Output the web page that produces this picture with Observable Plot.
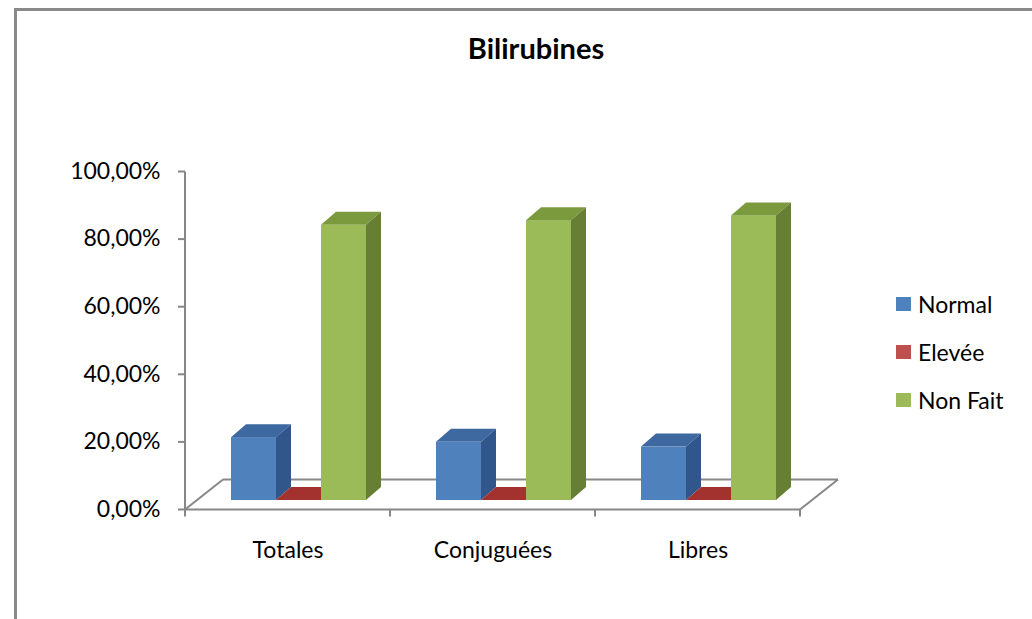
<!DOCTYPE html>
<html>
<head>
<meta charset="utf-8">
<script src="https://cdn.jsdelivr.net/npm/d3@7"></script>
<script src="https://cdn.jsdelivr.net/npm/@observablehq/plot@0.6"></script>
<style>
  html, body { margin: 0; padding: 0; background: #ffffff; }
  #wrap { position: relative; width: 1032px; height: 619px; overflow: hidden; font-family: Lato, "Open Sans", sans-serif; color: #000; }
  #frame { position: absolute; left: 14px; top: 8px; width: 1100px; height: 700px; border-top: 3px solid #8a8a8a; border-left: 3px solid #8a8a8a; box-sizing: border-box; }
  #chart { position: absolute; left: 0; top: 0; }
  #title { position: absolute; left: 336px; width: 400px; top: 31px; margin: 0; text-align: center; font-size: 29px; font-weight: bold; line-height: 1.2; }
  #legend { position: absolute; left: 896px; top: 0; }
  .row { position: absolute; left: 0; height: 30px; display: flex; align-items: center; white-space: nowrap; font-size: 23px; }
  .sw { width: 15px; height: 14px; margin-right: 7px; flex: none; }
</style>
</head>
<body>
<div id="wrap">
  <div id="frame"></div>
  <div id="chart"></div>
  <h2 id="title">Bilirubines</h2>
  <div id="legend"></div>
</div>
<script>
// ---- data ----
const categories = ["Totales", "Conjuguées", "Libres"];
const series = ["Normal", "Elevée", "Non Fait"];
const normal  = [0.186, 0.172, 0.158];
const elevee  = [0.0, 0.0, 0.0];
const nonFait = [0.814, 0.828, 0.842];
const yTicks = [0, 0.2, 0.4, 0.6, 0.8, 1.0];

// ---- styles ----
const frontColors = ["#4F81BD", "#C0504D", "#9BBB59"];
const topColors   = ["#3D68A0", "#A3322E", "#7B9A3E"];
const sideColors  = ["#30568B", "#8A2B27", "#667F34"];
const axisGray = "#878787";
const barDepth = {dx: 15, dy: -13};
const floorDepth = {dx: 38, dy: -30};

const seriesValues = [normal, elevee, nonFait];
const table = [];
categories.forEach((c, i) => {
  series.forEach((s, j) => table.push({cat: c, series: s, value: seriesValues[j][i]}));
});
const floorData = categories.map(c => ({cat: c}));

const pct = d => (d * 100).toFixed(2).replace(".", ",") + "%";
const NS = "http://www.w3.org/2000/svg";
function poly(points, fill) {
  const p = document.createElementNS(NS, "polygon");
  p.setAttribute("points", points.map(q => q.join(",")).join(" "));
  p.setAttribute("fill", fill);
  return p;
}
function seg(x1, y1, x2, y2) {
  const l = document.createElementNS(NS, "line");
  l.setAttribute("x1", x1); l.setAttribute("y1", y1);
  l.setAttribute("x2", x2); l.setAttribute("y2", y2);
  return l;
}

const chart = Plot.plot({
  width: 1032,
  height: 619,
  marginLeft: 185,
  marginRight: 232,
  marginTop: 171,
  marginBottom: 110,
  style: {fontFamily: "Lato, 'Open Sans', sans-serif", color: "#000", background: "transparent", overflow: "visible"},
  fx: {domain: categories, padding: 0, label: null},
  x: {domain: series, paddingInner: 0, paddingOuter: 0.7667, axis: null},
  y: {domain: [0, 1], axis: null},
  color: {domain: series, range: frontColors},
  marks: [
    // floor of the 3D box, drawn per category facet
    Plot.ruleY(floorData, {
      fx: "cat", y: () => 0, stroke: axisGray, strokeWidth: 2,
      render(index, scales, values, dimensions, context, next) {
        const g = next(index, scales, values, dimensions, context);
        const line = g.querySelector("line");
        const x1 = +line.getAttribute("x1"), x2 = +line.getAttribute("x2");
        const y0 = +line.getAttribute("y1");
        const cat = floorData[index[0]].cat;
        const add = (...a) => { const l = seg(...a); g.appendChild(l); };
        add(x1 + floorDepth.dx, y0 + floorDepth.dy, x2 + floorDepth.dx, y0 + floorDepth.dy);
        add(x1, y0, x1, y0 + 7);
        if (cat === categories[0]) {
          add(x1, y0, x1 + floorDepth.dx, y0 + floorDepth.dy);
          add(x1, scales.y(1), x1, y0);
        }
        if (cat === categories[categories.length - 1]) {
          add(x2, y0, x2, y0 + 7);
          add(x2, y0, x2 + floorDepth.dx, y0 + floorDepth.dy);
        }
        return g;
      }
    }),
    Plot.axisY({ticks: yTicks, tickFormat: pct, tickSize: 7, tickPadding: 18, stroke: axisGray, strokeWidth: 2, fill: "#000", fontSize: 23, label: null}),
    Plot.axisFx({anchor: "bottom", tickSize: 0, tickPadding: 32, fontSize: 23, label: null, fill: "#000"}),
    Plot.barY(table, {
      fx: "cat", x: "series", y: "value", fill: "series", dx: 11, dy: -9,
      render(index, scales, values, dimensions, context, next) {
        const g = next(index, scales, values, dimensions, context);
        for (const r of Array.from(g.querySelectorAll("rect"))) {
          const x = +r.getAttribute("x"), y = +r.getAttribute("y");
          const w = +r.getAttribute("width"), h = +r.getAttribute("height");
          const f = (r.getAttribute("fill") || "").toUpperCase();
          let k = frontColors.indexOf(f);
          const topC = k >= 0 ? topColors[k] : d3.color(f).darker(0.7).formatHex();
          const sideC = k >= 0 ? sideColors[k] : d3.color(f).darker(1.2).formatHex();
          const {dx, dy} = barDepth;
          const top = poly([[x, y], [x + w, y], [x + w + dx, y + dy], [x + dx, y + dy]], topC);
          const side = poly([[x + w, y], [x + w + dx, y + dy], [x + w + dx, y + h + dy], [x + w, y + h]], sideC);
          r.after(top, side);
        }
        return g;
      }
    })
  ]
});
document.getElementById("chart").appendChild(chart);

// legend
const legend = d3.select("#legend");
series.forEach((s, i) => {
  const row = legend.append("div").attr("class", "row").style("top", (303.5 + i * 48 - 15) + "px");
  row.append("div").attr("class", "sw").style("background", frontColors[i]);
  row.append("span").text(s);
});
</script>
</body>
</html>
